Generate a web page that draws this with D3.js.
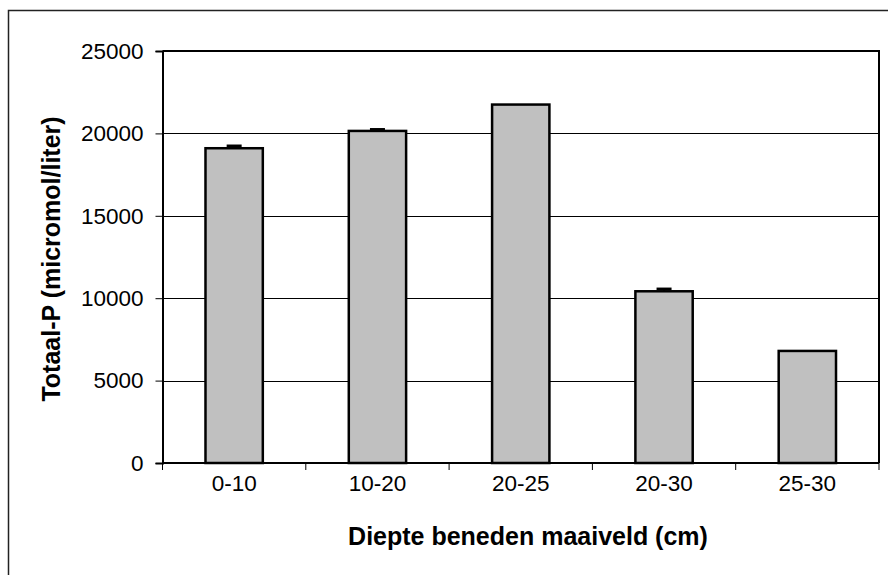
<!DOCTYPE html>
<html>
<head>
<meta charset="utf-8">
<script src="https://cdn.jsdelivr.net/npm/d3@7"></script>
<style>
  html, body { margin: 0; padding: 0; background: #fff; }
  svg { display: block; font-family: "Liberation Sans", Arial, sans-serif; }
</style>
</head>
<body>
<svg id="chart" width="888" height="575"></svg>
<script>
// Depth classes below ground level and total phosphorus concentration
const categories = ["0-10", "10-20", "20-25", "20-30", "25-30"];
const values = [19100, 20150, 21750, 10420, 6800];
const errors = [150, 100, 0, 150, 0];
const yTicks = [0, 5000, 10000, 15000, 20000, 25000];

const svg = d3.select("#chart");
const margin = { left: 162.5, top: 51, right: 879, bottom: 463 };
const labelSize = 22.5;
const titleSize = 25;

// Outer frame (runs past the right and bottom edges)
svg.append("rect")
  .attr("x", 8.5).attr("y", 10.5)
  .attr("width", 920).attr("height", 620)
  .attr("fill", "none").attr("stroke", "#222").attr("stroke-width", 1.5);

const x = d3.scaleBand()
  .domain(categories)
  .range([margin.left, margin.right])
  .paddingInner(0.6).paddingOuter(0.3);

const xOuter = d3.scaleBand()
  .domain(categories)
  .range([margin.left, margin.right]);

const y = d3.scaleLinear()
  .domain([0, 25000])
  .range([margin.bottom, margin.top]);

// Horizontal gridlines
svg.append("g")
  .selectAll("line")
  .data(yTicks.slice(1, -1))
  .join("line")
  .attr("x1", margin.left).attr("x2", margin.right)
  .attr("y1", d => Math.round(y(d)) + 0.5).attr("y2", d => Math.round(y(d)) + 0.5)
  .attr("stroke", "#000").attr("stroke-width", 1);

// Plot area border: top and right
svg.append("path")
  .attr("d", `M${margin.left},${margin.top}H${margin.right}V${margin.bottom}`)
  .attr("fill", "none").attr("stroke", "#000").attr("stroke-width", 2);

// Bars
svg.append("g")
  .selectAll("rect")
  .data(categories)
  .join("rect")
  .attr("x", d => x(d))
  .attr("y", (d, i) => y(values[i]))
  .attr("width", x.bandwidth())
  .attr("height", (d, i) => y(0) - y(values[i]))
  .attr("fill", "#c0c0c0")
  .attr("stroke", "#000")
  .attr("stroke-width", 2.5);

// Error bars (upper half)
const eb = svg.append("g");
categories.forEach((c, i) => {
  if (!errors[i]) return;
  const cx = x(c) + x.bandwidth() / 2;
  const top = y(values[i] + errors[i]);
  eb.append("line")
    .attr("x1", cx).attr("x2", cx)
    .attr("y1", y(values[i])).attr("y2", top)
    .attr("stroke", "#000").attr("stroke-width", 2);
  eb.append("line")
    .attr("x1", cx - 7.5).attr("x2", cx + 7.5)
    .attr("y1", top).attr("y2", top)
    .attr("stroke", "#000").attr("stroke-width", 2.5);
});

// Y axis
const yAxis = svg.append("g")
  .attr("transform", `translate(${margin.left},0)`)
  .call(d3.axisLeft(y).tickValues(yTicks).tickSize(7).tickPadding(12).tickFormat(d3.format("d")));
yAxis.select(".domain").attr("stroke", "#000").attr("stroke-width", 2);
yAxis.selectAll(".tick line").attr("stroke", "#000").attr("stroke-width", 1);
yAxis.selectAll(".tick text")
  .attr("font-size", labelSize).attr("fill", "#000")
  .attr("font-family", "Liberation Sans, Arial, sans-serif");

// X axis: ticks at category boundaries
const xAxisG = svg.append("g");
xAxisG.append("line")
  .attr("x1", margin.left).attr("x2", margin.right)
  .attr("y1", margin.bottom).attr("y2", margin.bottom)
  .attr("stroke", "#000").attr("stroke-width", 2);
const bounds = categories.map(c => xOuter(c)).concat([margin.right]);
xAxisG.selectAll("line.tk")
  .data(bounds)
  .join("line").attr("class", "tk")
  .attr("x1", d => d).attr("x2", d => d)
  .attr("y1", margin.bottom).attr("y2", margin.bottom + 7)
  .attr("stroke", "#000").attr("stroke-width", 1);
xAxisG.selectAll("text")
  .data(categories)
  .join("text")
  .attr("x", d => xOuter(d) + xOuter.bandwidth() / 2)
  .attr("y", 491)
  .attr("text-anchor", "middle")
  .attr("font-size", labelSize)
  .attr("fill", "#000")
  .text(d => d);

// Axis titles
svg.append("text")
  .attr("x", 528)
  .attr("y", 545)
  .attr("text-anchor", "middle")
  .attr("font-size", titleSize)
  .attr("font-weight", "bold")
  .text("Diepte beneden maaiveld (cm)");

svg.append("text")
  .attr("transform", `translate(60,${(margin.top + margin.bottom) / 2 + 2}) rotate(-90)`)
  .attr("text-anchor", "middle")
  .attr("font-size", titleSize)
  .attr("font-weight", "bold")
  .text("Totaal-P (micromol/liter)");
</script>
</body>
</html>
